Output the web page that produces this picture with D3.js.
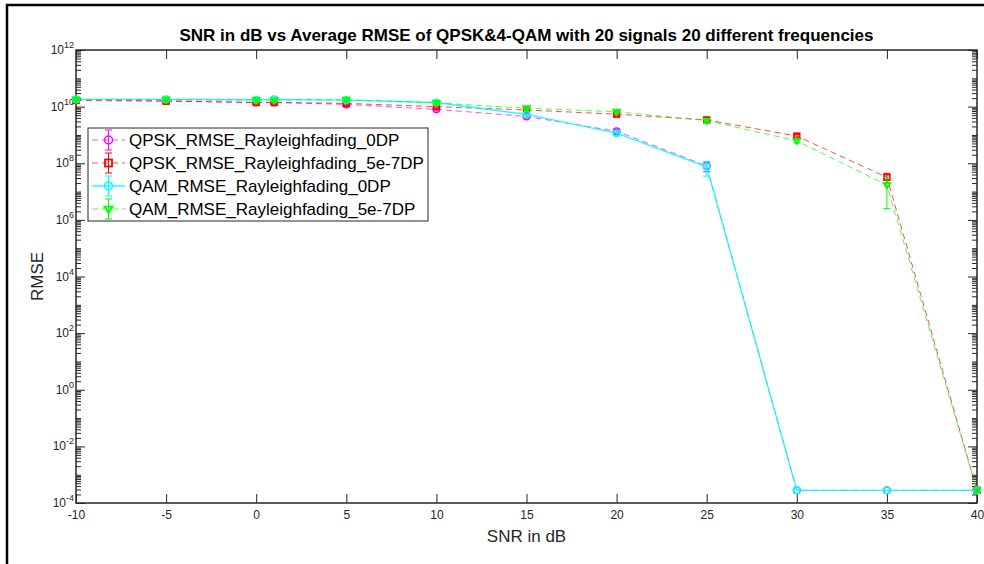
<!DOCTYPE html>
<html>
<head>
<meta charset="utf-8">
<script src="https://cdn.jsdelivr.net/npm/d3@7"></script>
<style>
  body { margin: 0; background: #fff; }
  text { font-family: "Liberation Sans", Arial, sans-serif; }
</style>
</head>
<body>
<div id="chart"></div>
<script>
// SNR vs average RMSE, log y axis with error bars

var snr = [-10, -5, 0, 1, 5, 10, 15, 20, 25, 30, 35, 40];

var qpsk0    = [1.75e10, 1.6e10, 1.4e10, 1.4e10, 1.2e10, 8e9, 4.5e9, 1.35e9, 8e7, 2.8e-4, 2.8e-4, 2.8e-4];
var qpsk0Err = [1e9, 1e9, 1.5e9, 1.5e9, 1.5e9, 1e9, 6e8, 2e8, 3e7, 0, 0, 0];
var qpsk5    = [1.65e10, 1.55e10, 1.4e10, 1.4e10, 1.3e10, 1e10, 7.6e9, 5.4e9, 3.4e9, 9.1e8, 3.2e7, 2.8e-4];
var qpsk5Err = [1e9, 1e9, 1.5e9, 1.5e9, 1.5e9, 1e9, 8e8, 6e8, 4e8, 1.2e8, 1.2e7, 0];
var qam0     = [1.8e10, 1.8e10, 1.75e10, 1.8e10, 1.7e10, 1.4e10, 5.3e9, 1.15e9, 7.5e7, 2.8e-4, 2.8e-4, 2.8e-4];
var qam0Err  = [1e9, 1e9, 1.5e9, 1.5e9, 1.5e9, 1e9, 6e8, 2e8, 4e7, 0, 0, 0];
var qam5     = [1.75e10, 1.75e10, 1.7e10, 1.7e10, 1.75e10, 1.35e10, 8.8e9, 6.6e9, 3.2e9, 6.2e8, 1.7e7, 2.8e-4];
var qam5Err  = [1e9, 1e9, 1.5e9, 1.5e9, 1.5e9, 1e9, 8e8, 6e8, 4e8, 1e8, 1.45e7, 0];

var seriesNames = ["QPSK_RMSE_Rayleighfading_0DP", "QPSK_RMSE_Rayleighfading_5e-7DP",
                   "QAM_RMSE_Rayleighfading_0DP", "QAM_RMSE_Rayleighfading_5e-7DP"];

var xTicks = [-10, -5, 0, 5, 10, 15, 20, 25, 30, 35, 40];
var yTicks = [-4, -2, 0, 2, 4, 6, 8, 10, 12];   // exponents

var titleText = "SNR in dB vs Average RMSE of QPSK&4-QAM with 20 signals 20 different frequencies";

var width = 984,
    height = 564;

// plot box (note: "top" is reserved on window, so prefix)
var pLeft = 76, pRight = 977, pTop = 50, pBottom = 503;
var axisColor = "#262626";

var series = [
  { name: seriesNames[0], y: qpsk0, e: qpsk0Err, color: "#ff00ff", dash: "6,4", marker: "circle" },
  { name: seriesNames[1], y: qpsk5, e: qpsk5Err, color: "#ff0000", dash: "6,4", marker: "square" },
  { name: seriesNames[2], y: qam0,  e: qam0Err,  color: "#00ffff", dash: null,  marker: "circle" },
  { name: seriesNames[3], y: qam5,  e: qam5Err,  color: "#00ff00", dash: "6,4", marker: "triangle" }
];

var svg = d3.select("#chart").append("svg")
    .attr("width", width)
    .attr("height", height);

var x = d3.scaleLinear().domain([-10, 40]).range([pLeft, pRight]);
var y = d3.scaleLog().domain([1e-4, 1e12]).range([pBottom, pTop]);

// figure window frame (cropped)
svg.append("path")
    .attr("d", "M7," + height + "V5H" + width)
    .attr("fill", "none")
    .attr("stroke", "#000")
    .attr("stroke-width", 2.5);

// axes box
svg.append("rect")
    .attr("x", pLeft).attr("y", pTop)
    .attr("width", pRight - pLeft).attr("height", pBottom - pTop)
    .attr("fill", "#fff")
    .attr("stroke", axisColor)
    .attr("stroke-width", 1);

// x ticks, bottom and top
var gx = svg.append("g").attr("transform", "translate(0," + pBottom + ")")
    .call(d3.axisBottom(x).tickValues(xTicks).tickSizeInner(-9).tickSizeOuter(0).tickPadding(7)
      .tickFormat(function(d) { return String(d); }));
svg.append("g").attr("transform", "translate(0," + pTop + ")")
    .call(d3.axisTop(x).tickValues(xTicks).tickSizeInner(-9).tickSizeOuter(0).tickFormat(""));

// y minor ticks (every decade 1..9), major every two decades
var minor = [];
for (var n = -4; n < 12; n++) {
  for (var k = 1; k <= 9; k++) {
    if (k == 1 && n % 2 == 0) continue;
    minor.push(k * Math.pow(10, n));
  }
}
var major = yTicks.map(function(p) { return Math.pow(10, p); });
svg.append("g").attr("transform", "translate(" + pLeft + ",0)")
    .call(d3.axisLeft(y).tickValues(major).tickSizeInner(-9).tickSizeOuter(0).tickFormat(""));
svg.append("g").attr("transform", "translate(" + pRight + ",0)")
    .call(d3.axisRight(y).tickValues(major).tickSizeInner(-9).tickSizeOuter(0).tickFormat(""));
svg.append("g").attr("transform", "translate(" + pLeft + ",0)")
    .call(d3.axisLeft(y).tickValues(minor).tickSizeInner(-5).tickSizeOuter(0).tickFormat(""));
svg.append("g").attr("transform", "translate(" + pRight + ",0)")
    .call(d3.axisRight(y).tickValues(minor).tickSizeInner(-5).tickSizeOuter(0).tickFormat(""));

svg.selectAll(".domain").remove();
svg.selectAll(".tick line").attr("stroke", axisColor);
gx.selectAll("text")
    .attr("fill", axisColor)
    .style("font-size", "12px")
    .style("font-family", "Liberation Sans, Arial, sans-serif");

// y tick labels as 10^n
var ylab = svg.append("g");
yTicks.forEach(function(p) {
  var t = ylab.append("text")
      .attr("x", pLeft - 2)
      .attr("y", y(Math.pow(10, p)) + 4)
      .attr("text-anchor", "end")
      .attr("fill", axisColor)
      .style("font-size", "12px");
  t.append("tspan").text("10");
  t.append("tspan").attr("dy", -6).style("font-size", "9px").text(p);
});

// box line again over the ticks
svg.append("rect")
    .attr("x", pLeft).attr("y", pTop)
    .attr("width", pRight - pLeft).attr("height", pBottom - pTop)
    .attr("fill", "none")
    .attr("stroke", axisColor)
    .attr("stroke-width", 1);

function drawMarker(g, type, cx, cy, color, r) {
  if (type == "circle") {
    g.append("circle").attr("cx", cx).attr("cy", cy).attr("r", r)
      .attr("fill", "none").attr("stroke", color).attr("stroke-width", 1.5);
  } else if (type == "square") {
    g.append("rect").attr("x", cx - r + 0.5).attr("y", cy - r + 0.5)
      .attr("width", 2 * r - 1).attr("height", 2 * r - 1)
      .attr("fill", "none").attr("stroke", color).attr("stroke-width", 1.8);
  } else {
    g.append("path")
      .attr("d", "M" + (cx - r) + "," + (cy - r * 0.6) + "L" + (cx + r) + "," + (cy - r * 0.6) + "L" + cx + "," + (cy + r) + "Z")
      .attr("fill", "none").attr("stroke", color).attr("stroke-width", 1.8);
  }
}

var line = d3.line()
    .x(function(d) { return x(d[0]); })
    .y(function(d) { return y(d[1]); });

var plot = svg.append("g");

series.forEach(function(s) {
  var pts = snr.map(function(v, i) { return [v, s.y[i], s.e[i]]; });

  plot.append("path")
      .datum(pts)
      .attr("d", line)
      .attr("fill", "none")
      .attr("stroke", s.color)
      .attr("stroke-width", s.dash ? 1 : 1.3)
      .attr("stroke-opacity", s.dash ? 0.7 : 0.9)
      .attr("stroke-dasharray", s.dash);

  var g = plot.append("g");
  pts.forEach(function(d) {
    if (d[2] > 0) {
      var lo = Math.max(d[1] - d[2], 1e-4), hi = d[1] + d[2];
      var cx = x(d[0]);
      g.append("path")
        .attr("d", "M" + cx + "," + y(lo) + "V" + y(hi) +
                   "M" + (cx - 3.5) + "," + y(lo) + "H" + (cx + 3.5) +
                   "M" + (cx - 3.5) + "," + y(hi) + "H" + (cx + 3.5))
        .attr("fill", "none")
        .attr("stroke", s.color)
        .attr("stroke-width", 1);
    }
    drawMarker(g, s.marker, x(d[0]), y(d[1]), s.color, 3.3);
  });
});

// legend
var lg = svg.append("g");
lg.append("rect")
    .attr("x", 88).attr("y", 128)
    .attr("width", 340).attr("height", 93)
    .attr("fill", "#fff")
    .attr("stroke", axisColor)
    .attr("stroke-width", 1);

series.forEach(function(s, i) {
  var cy = 140 + i * 23;
  lg.append("line")
      .attr("x1", 92).attr("x2", 125)
      .attr("y1", cy).attr("y2", cy)
      .attr("stroke", s.color)
      .attr("stroke-width", s.dash ? 1 : 1.3)
      .attr("stroke-opacity", s.dash ? 0.7 : 0.9)
      .attr("stroke-dasharray", s.dash);
  lg.append("path")
      .attr("d", "M108.5," + (cy - 10) + "V" + (cy + 10) +
                 "M105," + (cy - 10) + "H112M105," + (cy + 10) + "H112")
      .attr("fill", "none")
      .attr("stroke", s.color)
      .attr("stroke-width", 1);
  drawMarker(lg, s.marker, 108.5, cy, s.color, 4);
  lg.append("text")
      .attr("x", 129)
      .attr("y", cy + 6)
      .attr("fill", "#000")
      .style("font-size", "17px")
      .text(s.name);
});

// title and axis labels
svg.append("text")
    .attr("x", (pLeft + pRight) / 2)
    .attr("y", 41)
    .attr("text-anchor", "middle")
    .attr("fill", "#000")
    .style("font-size", "17px")
    .style("font-weight", "bold")
    .text(titleText);

svg.append("text")
    .attr("x", (pLeft + pRight) / 2)
    .attr("y", 542)
    .attr("text-anchor", "middle")
    .attr("fill", axisColor)
    .style("font-size", "17px")
    .text("SNR in dB");

svg.append("text")
    .attr("transform", "translate(43," + ((pTop + pBottom) / 2) + ") rotate(-90)")
    .attr("text-anchor", "middle")
    .attr("fill", axisColor)
    .style("font-size", "17px")
    .text("RMSE");
</script>
</body>
</html>
